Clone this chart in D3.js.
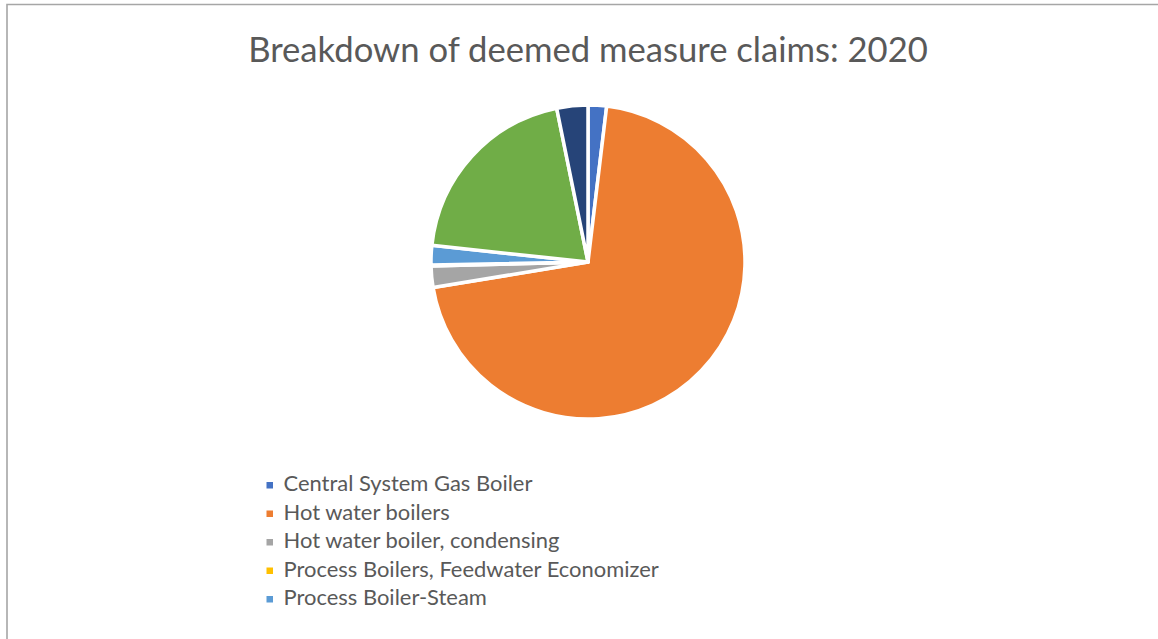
<!DOCTYPE html>
<html>
<head>
<meta charset="utf-8">
<script src="https://cdn.jsdelivr.net/npm/d3@7"></script>
<style>
  html, body { margin: 0; padding: 0; background: #ffffff; }
  svg { display: block; }
</style>
</head>
<body>
<svg id="chart" width="1158" height="639"></svg>
<script>
// Share of deemed measure claims (%), clockwise from 12 o'clock
const categories = [
  "Central System Gas Boiler",
  "Hot water boilers",
  "Hot water boiler, condensing",
  "Process Boilers, Feedwater Economizer",
  "Process Boiler-Steam",
  "Steam boilers",
  "Water heaters"
];
const values = [1.9, 70.5, 2.2, 0.1, 2.0, 20.1, 3.2];
const colors = ["#4472C4", "#ED7D31", "#A5A5A5", "#FFC000", "#5B9BD5", "#70AD47", "#264478"];
const titleText = "Breakdown of deemed measure claims: 2020";
// the legend box only has room for the first five entries
const legendRows = 5;

const W = 1158, H = 639;
const svg = d3.select("#chart");

// chart-area frame
svg.append("path")
  .attr("d", `M7,${H + 2} L7,4.5 L${W + 2},4.5`)
  .attr("fill", "none")
  .attr("stroke", "#a6a6a6")
  .attr("stroke-width", 1.6);

const fontFamily = "Lato, 'Open Sans', 'Liberation Sans', sans-serif";

// title
const title = svg.append("text")
  .attr("x", 588)
  .attr("y", 62)
  .attr("text-anchor", "middle")
  .attr("fill", "#595959")
  .style("font-family", fontFamily)
  .style("font-size", "32px")
  .text(titleText);
{
  const target = 680;
  const w = title.node().getComputedTextLength();
  title.style("font-size", (32 * target / w).toFixed(2) + "px");
}

// pie
const cx = 588, cy = 262, r = 157;
const pie = d3.pie().sort(null).value(d => d.value);
const arc = d3.arc().innerRadius(0).outerRadius(r);
const data = categories.map((c, i) => ({ name: c, value: values[i], color: colors[i] }));

svg.append("g")
  .attr("transform", `translate(${cx},${cy})`)
  .selectAll("path")
  .data(pie(data))
  .join("path")
  .attr("d", arc)
  .attr("fill", d => d.data.color)
  .attr("stroke", "#ffffff")
  .attr("stroke-width", 3.5)
  .attr("stroke-linejoin", "round");

// legend
const legendX = 266.5, legendY0 = 483.5, rowH = 28.5;
const legend = svg.append("g");
const rows = legend.selectAll("g")
  .data(data.slice(0, legendRows))
  .join("g")
  .attr("transform", (d, i) => `translate(${legendX},${legendY0 + i * rowH})`);

rows.append("rect")
  .attr("x", 0)
  .attr("y", -1.5)
  .attr("width", 6.5)
  .attr("height", 6.5)
  .attr("fill", d => d.color);

const labels = rows.append("text")
  .attr("x", 17)
  .attr("y", 0)
  .attr("dy", "0.35em")
  .attr("fill", "#595959")
  .style("font-family", fontFamily)
  .style("font-size", "20px")
  .text(d => d.name);
{
  const target = 249;
  const w = labels.nodes()[0].getComputedTextLength();
  labels.style("font-size", (20 * target / w).toFixed(2) + "px");
}
</script>
</body>
</html>
